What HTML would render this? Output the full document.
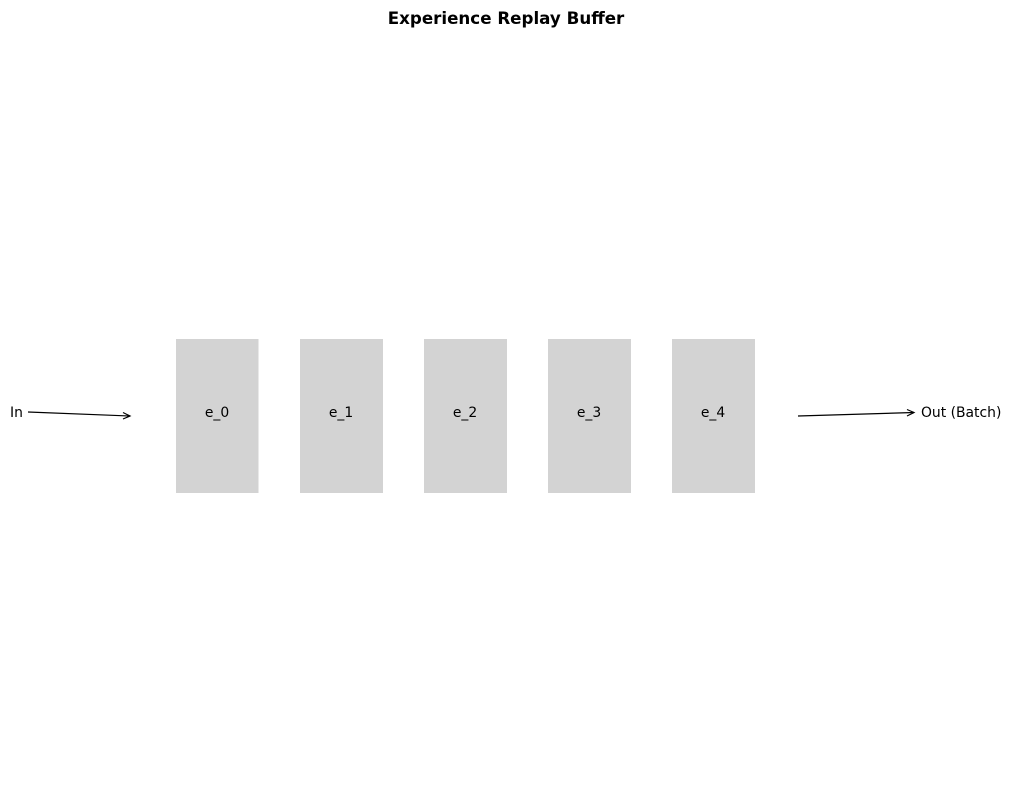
<!DOCTYPE html>
<html><head><style>
body{margin:0;background:#fff;width:1011px;height:811px;overflow:hidden}
svg{display:block}
text{font-family:"DejaVu Sans",sans-serif;font-size:13.9px;fill:#000}
</style></head><body>
<svg width="1011" height="811" viewBox="0 0 1011 811">
<text x="506" y="24" text-anchor="middle" style="font-weight:bold;font-size:16.7px">Experience Replay Buffer</text>
<rect x="176" y="339" width="82.5" height="154" fill="#d3d3d3"/>
<rect x="300" y="339" width="83" height="154" fill="#d3d3d3"/>
<rect x="424" y="339" width="83" height="154" fill="#d3d3d3"/>
<rect x="548" y="339" width="83" height="154" fill="#d3d3d3"/>
<rect x="672" y="339" width="83" height="154" fill="#d3d3d3"/>
<text x="217" y="417" text-anchor="middle">e_0</text>
<text x="341" y="417" text-anchor="middle">e_1</text>
<text x="465" y="417" text-anchor="middle">e_2</text>
<text x="589" y="417" text-anchor="middle">e_3</text>
<text x="713" y="417" text-anchor="middle">e_4</text>
<text x="10" y="417">In</text>
<text x="921" y="417">Out (Batch)</text>
<g stroke="#000" stroke-width="1.2" fill="none">
<line x1="28" y1="412" x2="130" y2="416"/>
<polyline points="123,412.5 130,416 123,419"/>
<line x1="798" y1="416" x2="914" y2="412.5"/>
<polyline points="907,409.5 914,412.5 907,416"/>
</g>
</svg>
</body></html>
